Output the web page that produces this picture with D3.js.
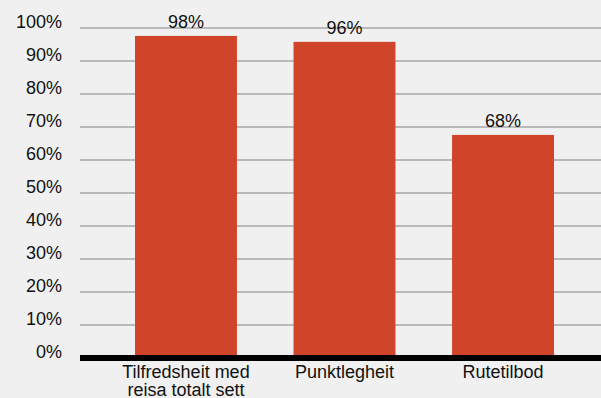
<!DOCTYPE html>
<html>
<head>
<meta charset="utf-8">
<script src="https://cdn.jsdelivr.net/npm/d3@7"></script>
<style>
  body { margin: 0; background: #f0f0f0; }
  svg { display: block; font-family: "Liberation Sans", Arial, sans-serif; }
</style>
</head>
<body>
<svg id="chart"></svg>
<script>
// Categories (multi-line labels) and values in percent
var categories = ["Tilfredsheit med\nreisa totalt sett", "Punktlegheit", "Rutetilbod"];
var values = [97.6, 95.8, 67.6];
var tickValues = [0, 10, 20, 30, 40, 50, 60, 70, 80, 90, 100];

var width = 601, height = 398;
var plotLeft = 80, plotTop = 28, plotBottom = 358;

var svg = d3.select("#chart")
  .attr("width", width)
  .attr("height", height);

svg.append("rect")
  .attr("width", width)
  .attr("height", height)
  .attr("fill", "#f0f0f0");

var x = d3.scaleBand()
  .domain(categories)
  .range([plotLeft, 609])
  .paddingInner(0.357)
  .paddingOuter(0.347);

var y = d3.scaleLinear()
  .domain([0, 100])
  .range([plotBottom, plotTop]);

// gridlines
svg.append("g")
  .selectAll("line")
  .data(tickValues.slice(1))
  .enter()
  .append("line")
  .attr("x1", plotLeft)
  .attr("x2", width)
  .attr("y1", function(d) { return y(d); })
  .attr("y2", function(d) { return y(d); })
  .attr("stroke", "#b9b9b9")
  .attr("stroke-width", 2);

// y tick labels
svg.append("g")
  .selectAll("text")
  .data(tickValues)
  .enter()
  .append("text")
  .attr("x", 62)
  .attr("y", function(d) { return y(d); })
  .attr("text-anchor", "end")
  .attr("font-size", 18)
  .attr("fill", "#111")
  .text(function(d) { return d + "%"; });

// bars
svg.append("g")
  .selectAll("rect")
  .data(values)
  .enter()
  .append("rect")
  .attr("x", function(d, i) { return x(categories[i]); })
  .attr("y", function(d) { return y(d); })
  .attr("width", x.bandwidth())
  .attr("height", function(d) { return y(0) - y(d); })
  .attr("fill", "#d0452a");

// value labels
svg.append("g")
  .selectAll("text")
  .data(values)
  .enter()
  .append("text")
  .attr("x", function(d, i) { return x(categories[i]) + x.bandwidth() / 2; })
  .attr("y", function(d) { return y(d) - 8; })
  .attr("text-anchor", "middle")
  .attr("font-size", 18)
  .attr("fill", "#111")
  .text(function(d) { return Math.round(d) + "%"; });

// baseline
svg.append("line")
  .attr("x1", plotLeft)
  .attr("x2", width)
  .attr("y1", y(0))
  .attr("y2", y(0))
  .attr("stroke", "#000")
  .attr("stroke-width", 6);

// category labels
var labels = svg.append("g")
  .selectAll("text")
  .data(categories)
  .enter()
  .append("text")
  .attr("x", function(d) { return x(d) + x.bandwidth() / 2; })
  .attr("y", 378)
  .attr("text-anchor", "middle")
  .attr("font-size", 18)
  .attr("fill", "#111");

labels.selectAll("tspan")
  .data(function(d) { return d.split("\n"); })
  .enter()
  .append("tspan")
  .attr("x", function() { return d3.select(this.parentNode).attr("x"); })
  .attr("dy", function(d, i) { return i === 0 ? 0 : 18; })
  .text(function(d) { return d; });
</script>
</body>
</html>
